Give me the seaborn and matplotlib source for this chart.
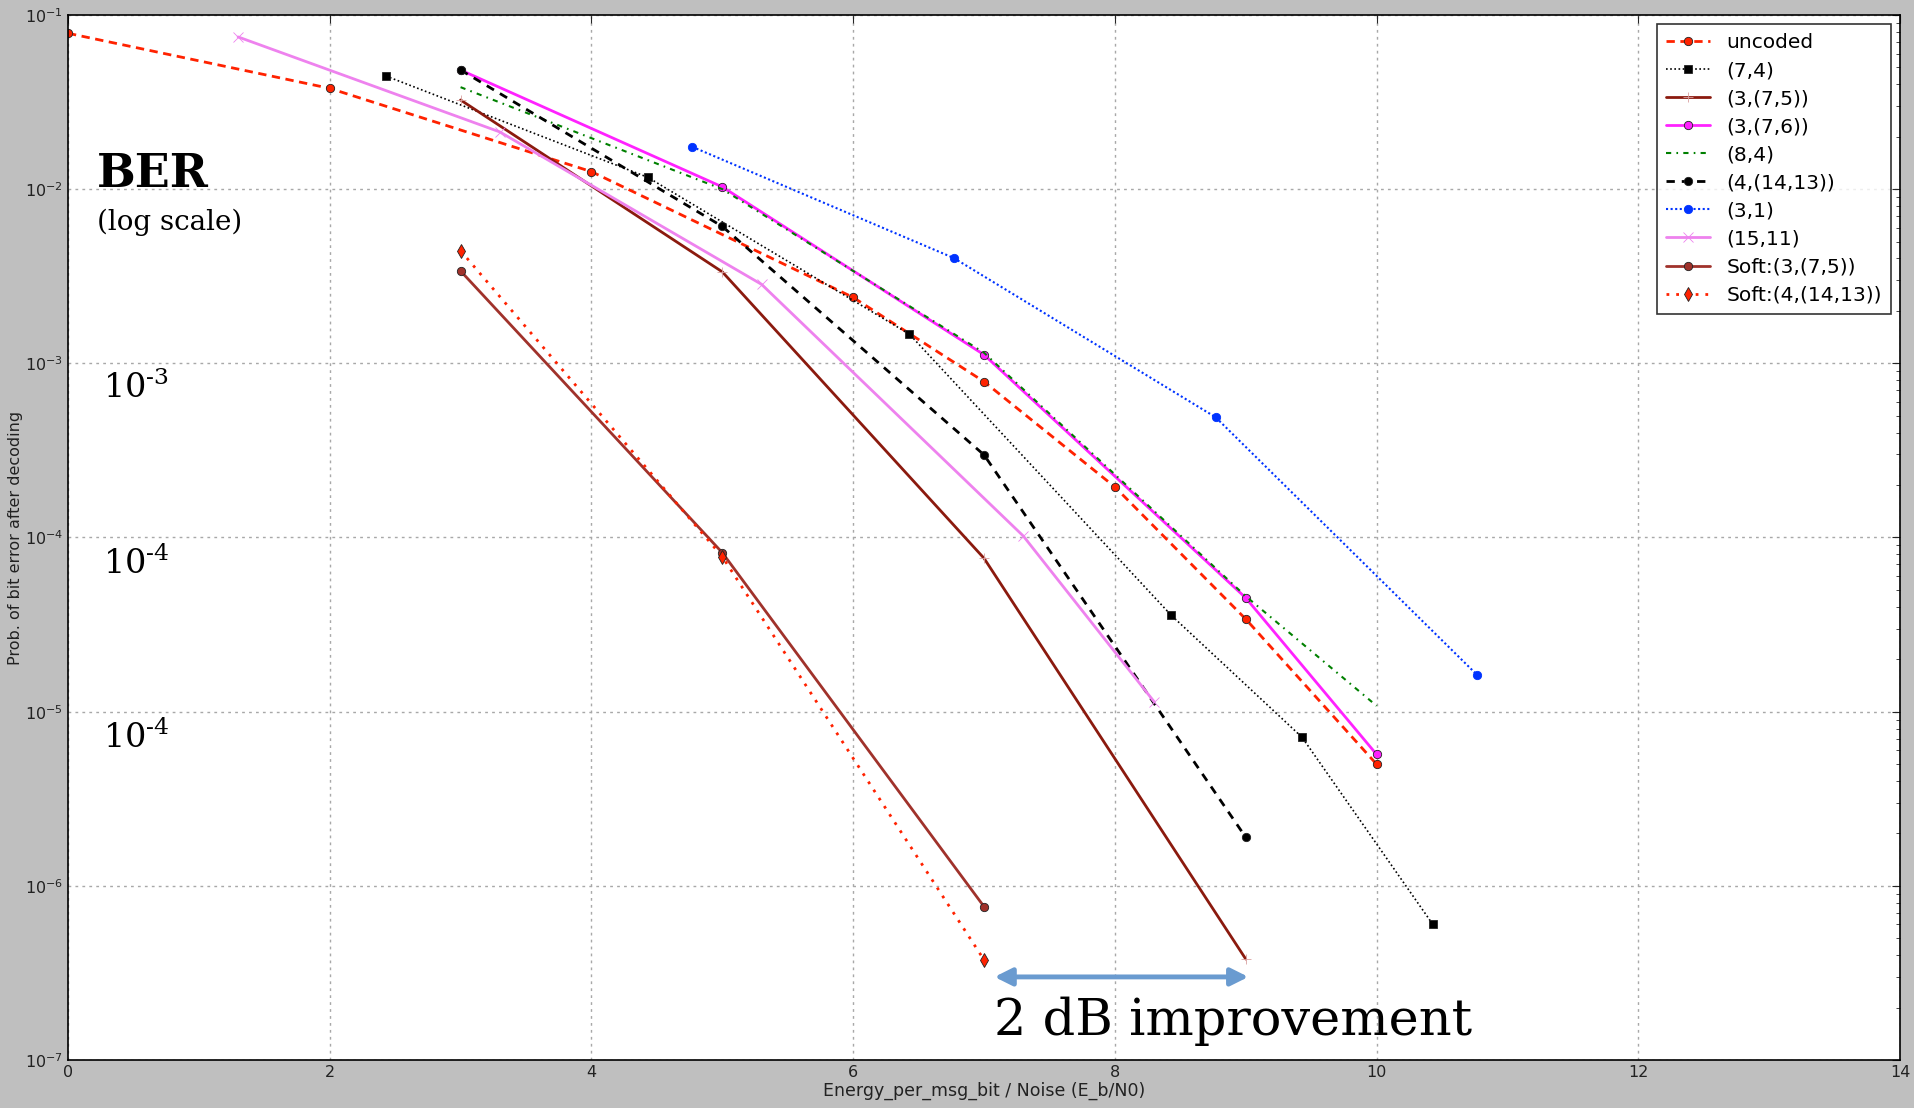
import matplotlib
matplotlib.use('Agg')
import matplotlib.pyplot as plt
import seaborn as sns

# Eb/N0 in dB (x) and bit error rate (y)
uncoded_x = [0, 2, 4, 6, 7, 8, 9, 10]
uncoded_y = [7.85e-2, 3.79e-2, 1.26e-2, 2.39e-3, 7.85e-4, 1.95e-4, 3.4e-5, 4.99e-6]

h74_x = [2.43, 4.43, 6.43, 8.43, 9.43, 10.43]
h74_y = [4.46e-2, 1.17e-2, 1.47e-3, 3.58e-5, 7.13e-6, 6.0e-7]

rep375_x = [3, 5, 7, 9]
rep375_y = [3.25e-2, 3.35e-3, 7.6e-5, 3.8e-7]

rep376_x = [3, 5, 7, 9, 10]
rep376_y = [4.83e-2, 1.03e-2, 1.12e-3, 4.5e-5, 5.68e-6]

h84_x = [3, 5, 7, 9, 10]
h84_y = [3.85e-2, 1.0e-2, 1.15e-3, 4.6e-5, 1.08e-5]

c41413_x = [3, 5, 7, 9]
c41413_y = [4.83e-2, 6.11e-3, 2.98e-4, 1.9e-6]

rep31_x = [4.77, 6.77, 8.77, 10.77]
rep31_y = [1.75e-2, 4.02e-3, 4.9e-4, 1.62e-5]

h1511_x = [1.3, 3.3, 5.3, 7.3, 8.3]
h1511_y = [7.48e-2, 2.13e-2, 2.84e-3, 1.02e-4, 1.14e-5]

soft375_x = [3, 5, 7]
soft375_y = [3.39e-3, 8.18e-5, 7.6e-7]

soft41413_x = [3, 5, 7]
soft41413_y = [4.43e-3, 7.76e-5, 3.76e-7]

series = [
    ('uncoded', uncoded_x, uncoded_y,
     dict(color='#ff2200', ls=(0, (3, 2)), lw=2, marker='o', ms=6)),
    ('(7,4)', h74_x, h74_y,
     dict(color='k', ls=(0, (1, 1.5)), lw=1.2, marker='s', ms=6)),
    ('(3,(7,5))', rep375_x, rep375_y,
     dict(color='#8b1a0e', ls='-', lw=2, marker='+', ms=7, mec='#d9a0a0')),
    ('(3,(7,6))', rep376_x, rep376_y,
     dict(color='#ff22ff', ls='-', lw=2, marker='o', ms=6)),
    ('(8,4)', h84_x, h84_y,
     dict(color='#008000', ls=(0, (2.5, 2.5, 0.8, 2.5)), lw=1.5, marker='None')),
    ('(4,(14,13))', c41413_x, c41413_y,
     dict(color='k', ls=(0, (3, 2.5)), lw=2, marker='o', ms=6)),
    ('(3,1)', rep31_x, rep31_y,
     dict(color='#0033ff', ls=(0, (1, 1.2)), lw=1.5, marker='o', ms=6, mec='#0033ff')),
    ('(15,11)', h1511_x, h1511_y,
     dict(color='#ee82ee', ls='-', lw=2, marker='x', ms=7, mec='#ee82ee')),
    ('Soft:(3,(7,5))', soft375_x, soft375_y,
     dict(color='#a0322b', ls='-', lw=2, marker='o', ms=6)),
    ('Soft:(4,(14,13))', soft41413_x, soft41413_y,
     dict(color='#ff2200', ls=(0, (1, 2.5)), lw=2, marker='d', ms=7)),
]

sns.set_style('white')
plt.rcParams['font.family'] = ['DejaVu Sans']
plt.rcParams['mathtext.fontset'] = 'dejavusans'

fig = plt.figure(figsize=(19.15, 11.08), dpi=100, facecolor='#bfbfbf')
ax = fig.add_axes([0.0355, 0.0433, 0.9567, 0.9432])
ax.set_facecolor('white')

for label, xs, ys, st in series:
    st = dict(st)
    st.setdefault('mec', '#222222')
    sns.lineplot(x=xs, y=ys, ax=ax, label=label, sort=False, estimator=None,
                 color=st['color'], linestyle=st['ls'], linewidth=st['lw'],
                 marker=st['marker'], markersize=st.get('ms', 6),
                 markeredgecolor=st['mec'], markeredgewidth=0.6)

ax.set_yscale('log')
ax.set_xlim(0, 14)
ax.set_ylim(1e-7, 1e-1)
ax.set_xticks(range(0, 15, 2))
ax.grid(True, which='major', ls=(0, (2, 3)), color='#a8a8a8', lw=1)
ax.tick_params(which='both', direction='in', top=True, right=True,
               labelsize=11.5, labelcolor='#222222')
ax.tick_params(which='major', length=6)
ax.tick_params(which='minor', length=3)
for sp in ax.spines.values():
    sp.set_color('black')
    sp.set_linewidth(1.2)

ax.set_xlabel('Energy_per_msg_bit / Noise (E_b/N0)', fontsize=12.5, color='#222222', labelpad=1)
ax.set_ylabel('Prob. of bit error after decoding', fontsize=11.5, color='#222222', labelpad=1)

leg = ax.legend(loc='upper right', fontsize=14.5, numpoints=1, handlelength=2.2,
                handletextpad=0.8, borderpad=0.45, labelspacing=0.45,
                borderaxespad=0.45, fancybox=False, frameon=True)
leg.get_frame().set_edgecolor('black')
leg.get_frame().set_linewidth(1.2)
for t in leg.get_texts():
    t.set_color('black')

serif = ['DejaVu Serif']
ax.text(0.22, 1.03e-2, 'BER', fontsize=33, fontweight='bold', family=serif, color='black')
ax.text(0.22, 5.84e-3, '(log scale)', fontsize=20, family=serif, color='black')
for yb, txt in [(6.32e-4, r'$10^{\text{-}3}$'), (6.18e-5, r'$10^{\text{-}4}$'),
                (6.19e-6, r'$10^{\text{-}4}$')]:
    ax.text(0.27, yb, txt, fontsize=24, family=serif, color='black',
            math_fontfamily='dejavuserif')

ax.annotate('', xy=(9.02, 3.0e-7), xytext=(7.08, 3.0e-7),
            arrowprops=dict(arrowstyle='<|-|>', color='#6a9bd0', lw=3.5,
                            mutation_scale=26, shrinkA=0, shrinkB=0))
ax.text(7.08, 1.4e-7, '2 dB improvement', fontsize=36.7, family=serif, color='black')

fig.savefig('out.png', dpi=100, facecolor=fig.get_facecolor())
